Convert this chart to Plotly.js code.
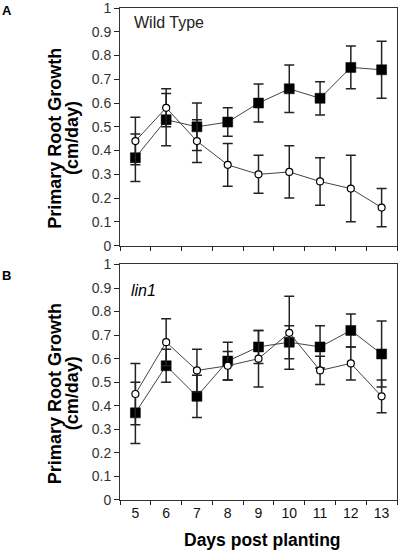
<!DOCTYPE html>
<html>
<head>
<meta charset="utf-8">
<script src="https://cdn.plot.ly/plotly-3.0.1.min.js"></script>
<style>html,body{margin:0;padding:0;background:#fff;}</style>
</head>
<body>
<div id="chart" style="width:400px;height:551px;"></div>
<script>
const days = [5, 6, 7, 8, 9, 10, 11, 12, 13];
const tickLabels = ['5', '6', '7', '8', '9', '10', '11', '12', '13'];
const yTickVals = [0, 0.1, 0.2, 0.3, 0.4, 0.5, 0.6, 0.7, 0.8, 0.9, 1];
const yTickText = ['0', '0.1', '0.2', '0.3', '0.4', '0.5', '0.6', '0.7', '0.8', '0.9', '1'];

// Panel A: Wild Type
const wtSquare    = [0.37, 0.53, 0.50, 0.52, 0.60, 0.66, 0.62, 0.75, 0.74];
const wtSquareErr = [0.10, 0.11, 0.10, 0.06, 0.08, 0.10, 0.07, 0.09, 0.12];
const wtCircle    = [0.44, 0.58, 0.44, 0.34, 0.30, 0.31, 0.27, 0.24, 0.16];
const wtCircleErr = [0.10, 0.08, 0.09, 0.09, 0.08, 0.11, 0.10, 0.14, 0.08];

// Panel B: lin1
const linSquare    = [0.37, 0.57, 0.44, 0.59, 0.65, 0.67, 0.65, 0.72, 0.62];
const linSquareErr = [0.13, 0.07, 0.09, 0.08, 0.07, 0.07, 0.09, 0.07, 0.14];
const linCircle    = [0.45, 0.67, 0.55, 0.57, 0.60, 0.71, 0.55, 0.58, 0.44];
const linCircleErr = [0.13, 0.10, 0.09, 0.06, 0.12, 0.155, 0.06, 0.07, 0.07];

const FONT = 'Liberation Sans, Arial, Helvetica, sans-serif';
const boundaries = days.map(d => d - 0.5).concat([days[days.length - 1] + 0.5]);

function sq(y, err, xa, ya) {
  return {
    x: days, y: y, xaxis: xa, yaxis: ya, type: 'scatter', mode: 'lines+markers',
    line: {color: '#444', width: 1},
    marker: {symbol: 'square', size: 10, color: '#000', line: {color: '#000', width: 0.5}},
    error_y: {type: 'data', array: err, visible: true, color: '#222', thickness: 1.5, width: 5},
    showlegend: false, hoverinfo: 'skip'
  };
}
function ci(y, err, xa, ya) {
  return {
    x: days, y: y, xaxis: xa, yaxis: ya, type: 'scatter', mode: 'lines+markers',
    line: {color: '#444', width: 1},
    marker: {symbol: 'circle', size: 7, color: '#fff', line: {color: '#000', width: 1.2}},
    error_y: {type: 'data', array: err, visible: true, color: '#222', thickness: 1.5, width: 5},
    showlegend: false, hoverinfo: 'skip'
  };
}

const data = [
  sq(wtSquare, wtSquareErr, 'x', 'y'),
  ci(wtCircle, wtCircleErr, 'x', 'y'),
  sq(linSquare, linSquareErr, 'x2', 'y2'),
  ci(linCircle, linCircleErr, 'x2', 'y2')
];

function xAxis(anchor, showLabels) {
  return {
    anchor: anchor, domain: [0, 1], range: [4.5, 13.5],
    showline: true, mirror: true, linecolor: '#333', linewidth: 1,
    showgrid: false, zeroline: false,
    tickmode: 'array', tickvals: days, ticktext: tickLabels,
    ticks: 'outside', ticklen: 0, tickcolor: 'rgba(0,0,0,0)',
    showticklabels: showLabels,
    tickfont: {family: FONT, size: 14, color: '#111'},
    minor: {tickmode: 'array', tickvals: boundaries, ticks: 'outside', ticklen: 4,
            tickcolor: '#222', tickwidth: 1, showgrid: false}
  };
}
function yAxis(anchor, domain) {
  return {
    anchor: anchor, domain: domain, range: [0, 1],
    tickmode: 'array', tickvals: yTickVals, ticktext: yTickText,
    ticklabeloverflow: 'allow',
    showline: true, mirror: true, linecolor: '#333', linewidth: 1,
    showgrid: false, zeroline: false,
    ticks: 'outside', ticklen: 5, tickcolor: '#222', tickwidth: 1,
    tickfont: {family: FONT, size: 14, color: '#333'}
  };
}

function ann(text, x, y, size, opts) {
  return Object.assign({text: text, xref: 'paper', yref: 'paper', x: x, y: y,
    xanchor: 'center', yanchor: 'middle', showarrow: false,
    font: {family: FONT, size: size, color: '#000'}}, opts || {});
}

const layout = {
  width: 400, height: 551,
  margin: {l: 120, r: 3, t: 8, b: 51},
  paper_bgcolor: '#fff', plot_bgcolor: '#fff',
  font: {family: FONT, color: '#111'},
  xaxis: xAxis('y', false),
  yaxis: yAxis('x', [0.517, 1]),
  xaxis2: xAxis('y2', true),
  yaxis2: yAxis('x2', [0, 0.4787]),
  annotations: [
    ann('<b>A</b>', -0.408, 0.995, 13),
    ann('<b>B</b>', -0.408, 0.457, 13),
    ann('Wild Type', 0.042, 0.970, 16, {xanchor: 'left', font: {family: FONT, size: 16, color: '#222'}}),
    ann('<i>lin1</i>', 0.034, 0.425, 16, {xanchor: 'left'}),
    ann('<b>Primary Root Growth</b>', -0.235, 0.736, 18, {textangle: -90}),
    ann('<b>(cm/day)</b>', -0.173, 0.736, 18, {textangle: -90}),
    ann('<b>Primary Root Growth</b>', -0.235, 0.217, 18, {textangle: -90}),
    ann('<b>(cm/day)</b>', -0.173, 0.217, 18, {textangle: -90}),
    ann('<b>Days post planting</b>', 0.516, -0.081, 17.5)
  ]
};

Plotly.newPlot('chart', data, layout, {staticPlot: true, displayModeBar: false});
</script>
</body>
</html>
